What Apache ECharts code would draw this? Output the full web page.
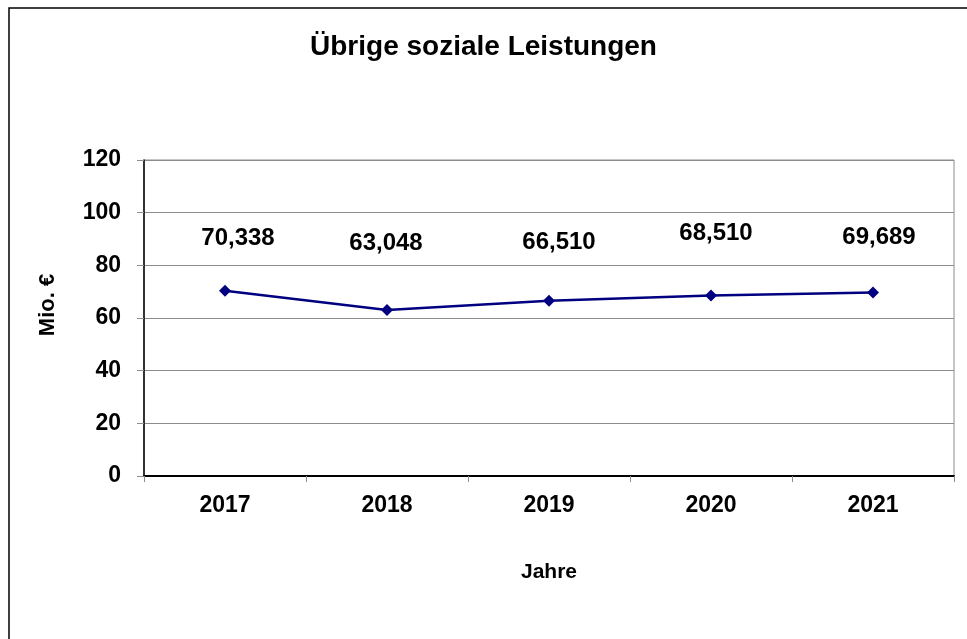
<!DOCTYPE html>
<html>
<head>
<meta charset="utf-8">
<title>Übrige soziale Leistungen</title>
<script src="https://cdn.jsdelivr.net/npm/echarts@6/dist/echarts.min.js"></script>
<style>
  html, body { margin: 0; padding: 0; background: #fff; }
  #chart { width: 967px; height: 639px; }
</style>
</head>
<body>
<div id="chart"></div>
<script>
// Daten
const years = ['2017', '2018', '2019', '2020', '2021']
const values = [70.338, 63.048, 66.510, 68.510, 69.689]
const yTicks = [0, 20, 40, 60, 80, 100, 120]

// Beschriftungen sitzen im Original nicht alle gleich hoch
const labelShift = [[13, -34], [-1, -49], [10, -40], [5, -44], [6, -37]]

const font = '"Liberation Sans", Arial, sans-serif'

const chart = echarts.init(document.getElementById('chart'), null, { renderer: 'canvas' })

const option = {
  backgroundColor: '#fff',
  animation: false,
  title: {
    text: 'Übrige soziale Leistungen',
    left: 'center',
    top: 28,
    textStyle: { fontFamily: font, fontSize: 28, fontWeight: 'bold', color: '#000' }
  },
  graphic: [
    {
      type: 'rect',
      shape: { x: 9, y: 8, width: 1000, height: 700 },
      style: { fill: 'none', stroke: '#000', lineWidth: 1.5 },
      silent: true
    }
  ],
  grid: {
    left: 144,
    right: 13,
    top: 160,
    bottom: 163,
    show: true,
    borderColor: '#8c8c8c',
    borderWidth: 1
  },
  xAxis: {
    type: 'category',
    data: years,
    boundaryGap: true,
    name: 'Jahre',
    nameLocation: 'middle',
    nameGap: 86,
    nameTextStyle: { fontFamily: font, fontSize: 21, fontWeight: 'bold', color: '#000' },
    axisLine: { lineStyle: { color: '#000', width: 2 } },
    axisTick: { show: true, length: 6, lineStyle: { color: '#8c8c8c' } },
    axisLabel: { margin: 18, fontFamily: font, fontSize: 23, fontWeight: 'bold', color: '#000' },
    splitLine: { show: false }
  },
  yAxis: {
    type: 'value',
    min: yTicks[0],
    max: yTicks[yTicks.length - 1],
    interval: yTicks[1] - yTicks[0],
    name: 'Mio. €',
    nameLocation: 'middle',
    nameGap: 85,
    nameTextStyle: { fontFamily: font, fontSize: 22, fontWeight: 'bold', color: '#000', padding: [0, 0, 0, 26] },
    axisLine: { show: true, lineStyle: { color: '#000', width: 1.5 } },
    axisTick: { show: true, length: 7, lineStyle: { color: '#8c8c8c' } },
    axisLabel: { margin: 23, padding: [4, 0, 0, 0], fontFamily: font, fontSize: 23, fontWeight: 'bold', color: '#000' },
    splitLine: { show: true, lineStyle: { color: '#8c8c8c', width: 1 } }
  },
  series: [
    {
      type: 'line',
      data: values.map((v, i) => ({
        value: v,
        label: { offset: labelShift[i] }
      })),
      symbol: 'diamond',
      symbolSize: 12,
      itemStyle: { color: '#000080' },
      lineStyle: { color: '#000080', width: 2.5 },
      label: {
        show: true,
        position: 'top',
        distance: 0,
        fontFamily: font,
        fontSize: 24,
        fontWeight: 'bold',
        color: '#000',
        formatter: p => p.value.toFixed(3).replace('.', ',')
      }
    }
  ]
}

chart.setOption(option)
</script>
</body>
</html>
